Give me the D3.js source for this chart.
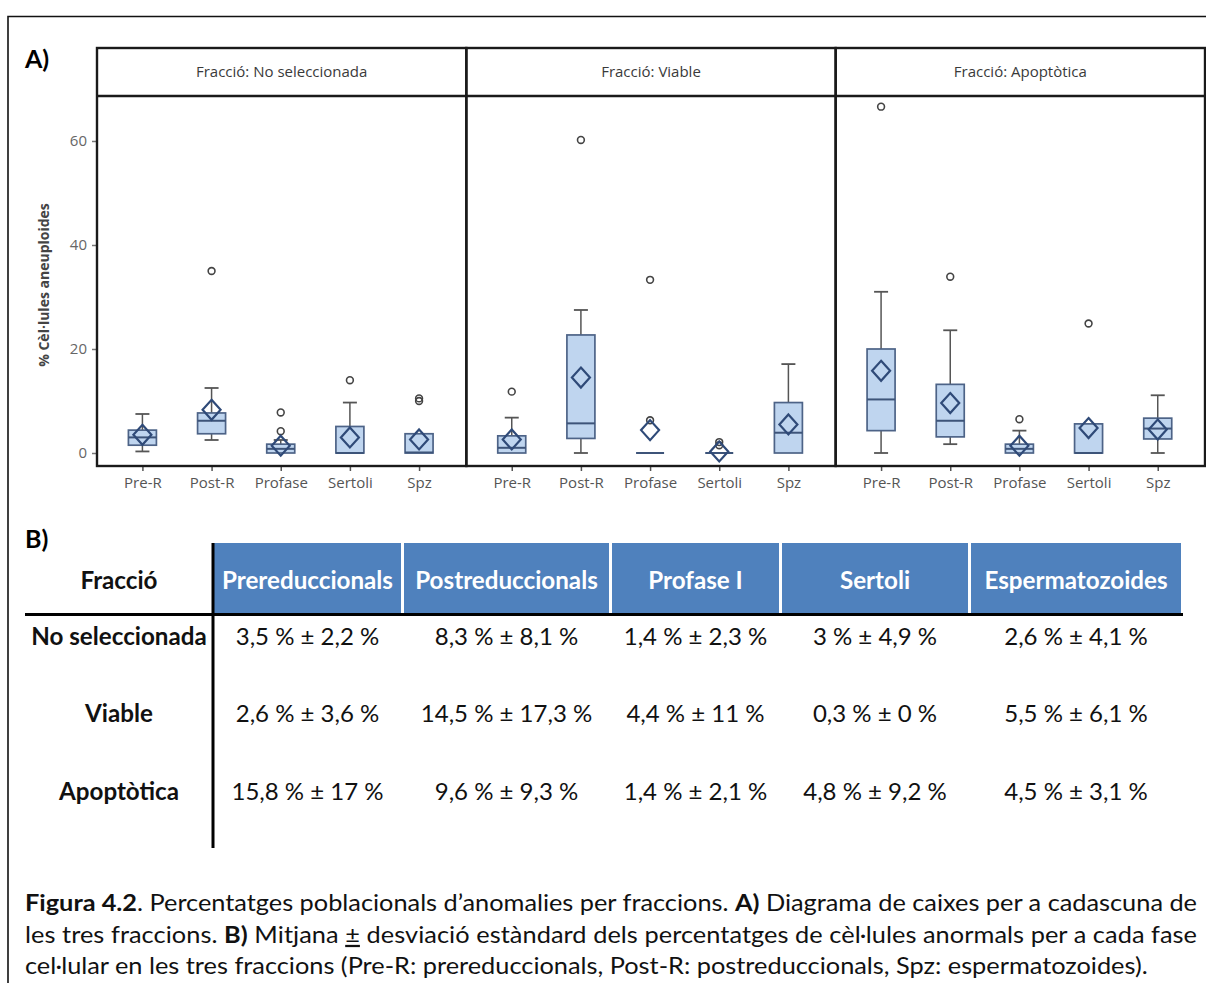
<!DOCTYPE html>
<html>
<head>
<meta charset="utf-8">
<script src="https://cdn.jsdelivr.net/npm/d3@7"></script>
<style>
  html, body { margin: 0; padding: 0; background: #fff; }
  svg { display: block; }
</style>
</head>
<body>
<svg id="fig" width="1206" height="983"></svg>
<script>
// ---- data -------------------------------------------------------------
const phases = ["Pre-R", "Post-R", "Profase", "Sertoli", "Spz"];
const fractions = ["No seleccionada", "Viable", "Apoptòtica"];
const yTicks = [0, 20, 40, 60];

// box-plot summaries per fraction (rows) and phase (columns), in %
const whiskerLow  = [[0.3, 2.5, 0, 0, 0], [0, 0, 0, 0, 0], [0, 1.7, 0, 0, 0]];
const q1          = [[1.5, 3.7, 0, 0, 0], [0, 2.8, 0, 0, 0], [4.3, 3.1, 0, 0, 2.7]];
const median      = [[3.0, 6.2, 0.8, 0, 0.1], [1.0, 5.7, 0, 0, 3.9], [10.3, 6.2, 0.8, 0, 4.7]];
const q3          = [[4.4, 7.7, 1.7, 5.1, 3.7], [3.3, 22.7, 0, 0, 9.7], [20.0, 13.2, 1.7, 5.6, 6.7]];
const whiskerHigh = [[7.5, 12.5, 2.5, 9.7, 3.7], [6.8, 27.5, 0, 0, 17.1], [31.0, 23.6, 4.3, 5.6, 11.1]];
const outliers = [
  [[], [35], [4.2, 7.8], [14], [10, 10.5]],
  [[11.8], [60.2], [6.3, 33.3], [1.5, 2.1], []],
  [[66.6], [33.9], [6.5], [24.9], []]
];

// mean ± standard deviation, in %
const tableColumns = ["Prereduccionals", "Postreduccionals", "Profase I", "Sertoli", "Espermatozoides"];
const meanPct = [[3.5, 8.3, 1.4, 3, 2.6], [2.6, 14.5, 4.4, 0.3, 5.5], [15.8, 9.6, 1.4, 4.8, 4.5]];
const sdPct   = [[2.2, 8.1, 2.3, 4.9, 4.1], [3.6, 17.3, 11, 0, 6.1], [17, 9.3, 2.1, 9.2, 3.1]];

// ---- drawing ----------------------------------------------------------
const svg = d3.select("#fig");
const chartFont = "'Open Sans', 'Noto Sans', sans-serif";
const docFont = "Lato, 'Noto Sans', sans-serif";

// page frame
svg.append("path")
  .attr("d", "M8,983 V16.5 H1206")
  .attr("fill", "none").attr("stroke", "#111").attr("stroke-width", 1.6);

svg.append("text").attr("x", 25).attr("y", 68)
  .attr("font-family", docFont).attr("font-weight", 700).attr("font-size", 25)
  .text("A)");

// facet layout
const left = 97, right = 1205, headTop = 48, headBottom = 96, plotBottom = 466;
const panelW = (right - left) / fractions.length;
const y = d3.scaleLinear().domain([-2.5, 68.65]).range([plotBottom, headBottom]);
const boxW = 28, capW = 14;
const fmt = v => String(v).replace(".", ",");

fractions.forEach((fr, fi) => {
  const x0 = left + fi * panelW, x1 = x0 + panelW;
  const x = d3.scalePoint().domain(phases).range([x0, x1]).padding(0.67).align(0.49);
  const g = svg.append("g");

  // header strip
  g.append("text").attr("x", (x0 + x1) / 2).attr("y", (headTop + headBottom) / 2 + 1)
    .attr("text-anchor", "middle").attr("dominant-baseline", "middle")
    .attr("font-family", chartFont).attr("font-size", 15).attr("fill", "#3a3a3a")
    .text("Fracció: " + fr);

  // x axis
  const xAxis = d3.axisBottom(x).tickSize(5).tickPadding(6);
  const ax = g.append("g").attr("transform", `translate(0,${plotBottom})`).call(xAxis);
  ax.select(".domain").remove();
  ax.selectAll("line").attr("stroke", "#555").attr("stroke-width", 1.5);
  ax.selectAll("text").attr("font-family", chartFont).attr("font-size", 15).attr("fill", "#555");

  if (fi === 0) {
    const yAxis = d3.axisLeft(y).tickValues(yTicks).tickSize(5).tickPadding(5);
    const ay = g.append("g").attr("transform", `translate(${x0},0)`).call(yAxis);
    ay.select(".domain").remove();
    ay.selectAll("line").attr("stroke", "#777").attr("stroke-width", 1.5);
    ay.selectAll("text").attr("font-family", chartFont).attr("font-size", 15).attr("fill", "#666");
  }

  phases.forEach((ph, pi) => {
    const cx = x(ph);
    const lo = whiskerLow[fi][pi], hi = whiskerHigh[fi][pi];
    const a = q1[fi][pi], b = q3[fi][pi];
    const whisk = "#555";
    // whiskers and caps
    if (hi > b) {
      g.append("line").attr("x1", cx).attr("x2", cx).attr("y1", y(b)).attr("y2", y(hi)).attr("stroke", whisk).attr("stroke-width", 1.5);
      g.append("line").attr("x1", cx - capW / 2).attr("x2", cx + capW / 2).attr("y1", y(hi)).attr("y2", y(hi)).attr("stroke", whisk).attr("stroke-width", 1.8);
    }
    if (lo < a) {
      g.append("line").attr("x1", cx).attr("x2", cx).attr("y1", y(a)).attr("y2", y(lo)).attr("stroke", whisk).attr("stroke-width", 1.5);
      g.append("line").attr("x1", cx - capW / 2).attr("x2", cx + capW / 2).attr("y1", y(lo)).attr("y2", y(lo)).attr("stroke", whisk).attr("stroke-width", 1.8);
    }
    // box
    if (b > a) {
      g.append("rect").attr("x", cx - boxW / 2).attr("y", y(b))
        .attr("width", boxW).attr("height", y(a) - y(b))
        .attr("fill", "#bfd5ef").attr("stroke", "#4d6387").attr("stroke-width", 1.7);
    }
    // median
    g.append("line").attr("x1", cx - boxW / 2).attr("x2", cx + boxW / 2)
      .attr("y1", y(median[fi][pi])).attr("y2", y(median[fi][pi]))
      .attr("stroke", "#3d5479").attr("stroke-width", 2);
    // outliers
    outliers[fi][pi].forEach(v => {
      g.append("circle").attr("cx", cx).attr("cy", y(v)).attr("r", 3.4)
        .attr("fill", "none").attr("stroke", "#444").attr("stroke-width", 1.6);
    });
    // mean marker
    const my = y(meanPct[fi][pi]);
    g.append("path")
      .attr("d", `M${cx},${my - 10} L${cx + 9},${my} L${cx},${my + 10} L${cx - 9},${my} Z`)
      .attr("fill", "none").attr("stroke", "#2f4a78").attr("stroke-width", 2.2);
  });

  // panel frame
  g.append("rect").attr("x", x0).attr("y", headTop).attr("width", panelW).attr("height", plotBottom - headTop)
    .attr("fill", "none").attr("stroke", "#1a1a1a").attr("stroke-width", 2.4);
  g.append("line").attr("x1", x0).attr("x2", x1).attr("y1", headBottom).attr("y2", headBottom)
    .attr("stroke", "#1a1a1a").attr("stroke-width", 2.4);
});

// y axis title
svg.append("text")
  .attr("transform", "translate(49,285) rotate(-90)")
  .attr("text-anchor", "middle")
  .attr("font-family", chartFont).attr("font-size", 14).attr("font-weight", 700).attr("fill", "#444")
  .text("% Cèl·lules aneuploides");

// ---- table B ----------------------------------------------------------
svg.append("text").attr("x", 25).attr("y", 548)
  .attr("font-family", docFont).attr("font-weight", 700).attr("font-size", 25)
  .text("B)");

const colEdges = [[214, 401], [404, 609], [612, 779], [782, 968], [971, 1181]];
const headTopB = 543, headBottomB = 613;
const rowY = [635, 712, 790];
const labelX = 119;
const boldSize = 24.2, plainSize = 24;

tableColumns.forEach((c, i) => {
  const [a, b] = colEdges[i];
  svg.append("rect").attr("x", a).attr("y", headTopB).attr("width", b - a).attr("height", headBottomB - headTopB)
    .attr("fill", "#4f81bd");
  svg.append("text").attr("x", (a + b) / 2).attr("y", (headTopB + headBottomB) / 2 + 1)
    .attr("text-anchor", "middle").attr("dominant-baseline", "central")
    .attr("font-family", docFont).attr("font-weight", 700).attr("font-size", boldSize).attr("fill", "#fff")
    .text(c);
});

svg.append("text").attr("x", labelX).attr("y", (headTopB + headBottomB) / 2 + 1)
  .attr("text-anchor", "middle").attr("dominant-baseline", "central")
  .attr("font-family", docFont).attr("font-weight", 700).attr("font-size", boldSize).attr("fill", "#111")
  .text("Fracció");

fractions.forEach((fr, fi) => {
  svg.append("text").attr("x", labelX).attr("y", rowY[fi])
    .attr("text-anchor", "middle").attr("dominant-baseline", "central")
    .attr("font-family", docFont).attr("font-weight", 700).attr("font-size", boldSize).attr("fill", "#111")
    .text(fr);
  tableColumns.forEach((c, ci) => {
    const [a, b] = colEdges[ci];
    svg.append("text").attr("x", (a + b) / 2).attr("y", rowY[fi])
      .attr("text-anchor", "middle").attr("dominant-baseline", "central")
      .attr("font-family", docFont).attr("font-size", plainSize).attr("fill", "#111")
      .text(`${fmt(meanPct[fi][ci])} % ± ${fmt(sdPct[fi][ci])} %`);
  });
});

svg.append("line").attr("x1", 25).attr("x2", 1183).attr("y1", 614.5).attr("y2", 614.5)
  .attr("stroke", "#000").attr("stroke-width", 3);
svg.append("line").attr("x1", 213).attr("x2", 213).attr("y1", 543).attr("y2", 848)
  .attr("stroke", "#000").attr("stroke-width", 3);

// ---- caption ----------------------------------------------------------
const captionLines = [
  [["Figura 4.2", 700], [". Percentatges poblacionals d’anomalies per fraccions. ", 400], ["A)", 700], [" Diagrama de caixes per a cadascuna de", 400]],
  [["les tres fraccions. ", 400], ["B)", 700], [" Mitjana ", 400], ["±", 400, true], [" desviació estàndard dels percentatges de cèl·lules anormals per a cada fase", 400]],
  [["cel·lular en les tres fraccions (Pre-R: prereduccionals, Post-R: postreduccionals, Spz: espermatozoides).", 400]]
];
const capBase = [911, 943, 974];
const capSize = 22.5;
const capGroup = svg.append("g");
const capNodes = captionLines.map((parts, li) => {
  const t = capGroup.append("text").attr("x", 0).attr("y", capBase[li])
    .attr("font-family", docFont).attr("font-size", capSize).attr("fill", "#111")
    .attr("xml:space", "preserve");
  parts.forEach(([s, w, u]) => {
    const ts = t.append("tspan").attr("font-weight", w).text(s);
    if (u) ts.attr("text-decoration", "underline");
  });
  return t;
});
// narrow the set so the ragged last line ends where it should, then justify full lines
const natural = capNodes[2].node().getComputedTextLength();
const sx = 1123 / natural;
capGroup.attr("transform", `translate(25,0) scale(${sx},1)`);
capNodes[0].attr("textLength", 1172 / sx).attr("lengthAdjust", "spacing");
capNodes[1].attr("textLength", 1172 / sx).attr("lengthAdjust", "spacing");
</script>
</body>
</html>
